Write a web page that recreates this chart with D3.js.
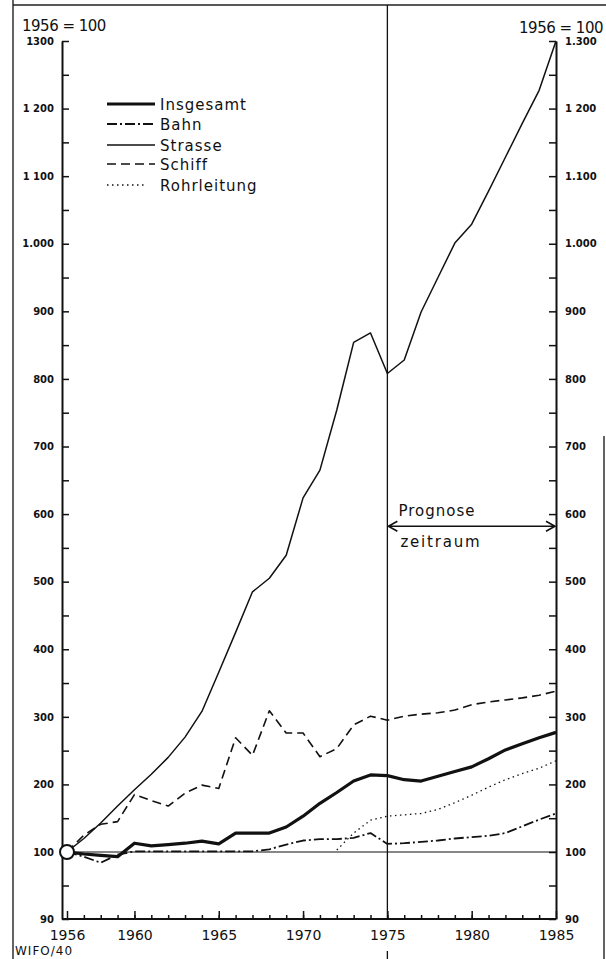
<!DOCTYPE html>
<html>
<head>
<meta charset="utf-8">
<script src="https://cdn.jsdelivr.net/npm/d3@7"></script>
<style>
  body { margin: 0; background: #fff; }
  svg text { font-family: "DejaVu Sans", sans-serif; fill: #111; }
  .ytick text { font-size: 10px; font-weight: bold; }
  .xaxis text { font-size: 14px; }
</style>
</head>
<body>
<svg width="606" height="959"></svg>
<script>
// Verkehrsleistung, Index 1956 = 100
var years = [1956, 1957, 1958, 1959, 1960, 1961, 1962, 1963, 1964, 1965,
             1966, 1967, 1968, 1969, 1970, 1971, 1972, 1973, 1974, 1975,
             1976, 1977, 1978, 1979, 1980, 1981, 1982, 1983, 1984, 1985];

var insgesamt = [100, 99.7, 99.5, 99.3, 113, 109, 111, 113, 116, 112,
                 128, 128, 128, 137, 153, 172, 188, 205, 214, 213,
                 207, 205, 212, 219, 226, 238, 251, 260, 269, 277];

var bahn = [100, 99.3, 98.4, 99.6, 101, 101, 101, 101, 101, 101,
            101, 101, 104, 111, 117, 119, 119, 121, 128, 112,
            113, 115, 117, 120, 122, 124, 128, 138, 148, 157];

var strasse = [100, 120, 143, 168, 192, 215, 240, 270, 308, 366,
               425, 485, 505, 539, 624, 665, 754, 854, 868, 808,
               828, 899, 950, 1001, 1029, 1078, 1128, 1178, 1227, 1300];

var schiff = [100, 125, 141, 145, 185, 176, 168, 187, 199, 194,
              269, 243, 309, 276, 276, 241, 253, 288, 301, 295,
              301, 304, 306, 310, 318, 322, 325, 328, 332, 338];

var rohrleitung = [null, null, null, null, null, null, null, null, null, null,
                   null, null, null, null, null, null, 103, 128, 147, 153,
                   155, 157, 163, 173, 184, 196, 207, 216, 224, 235];

var seriesNames = ["Insgesamt", "Bahn", "Strasse", "Schiff", "Rohrleitung"];
var seriesValues = [insgesamt, bahn, strasse, schiff, rohrleitung];

var yTicks = [90, 100, 200, 300, 400, 500, 600, 700, 800, 900, 1000, 1100, 1200, 1300];
var yMinorTicks = [95, 150, 250, 350, 450, 550, 650, 750, 850, 950, 1050, 1150, 1250];
var leftTickLabels = ["90", "100", "200", "300", "400", "500", "600", "700", "800", "900", "1.000", "1 100", "1 200", "1300"];
var rightTickLabels = ["90", "100", "200", "300", "400", "500", "600", "700", "800", "900", "1.000", "1.100", "1 200", "1.300"];
var yearLabels = [1956, 1960, 1965, 1970, 1975, 1980, 1985];

// line styles per series
var styles = {
  "Insgesamt":   { width: 3.2, dash: null },
  "Bahn":        { width: 1.8, dash: "10,3,2,3" },
  "Strasse":     { width: 1.5, dash: null },
  "Schiff":      { width: 1.6, dash: "9,5" },
  "Rohrleitung": { width: 1.3, dash: "1.5,3.5" }
};

var svg = d3.select("svg");
var x = d3.scaleLinear().domain([1956, 1985]).range([67, 556]);
// broken axis: the 90-100 step is stretched like a full 100 step
var y = d3.scaleLinear().domain([90, 100, 1300]).range([919, 852, 41]);
var leftX = x(1956) - 5, rightX = x(1985);

// scan frame
svg.append("path").attr("d", "M13,0V959M13,5H606M604,436V959")
  .attr("fill", "none").attr("stroke", "#222").attr("stroke-width", 1.4);

// left axis
var gl = svg.append("g").attr("class", "ytick").attr("transform", "translate(" + leftX + ",0)");
gl.call(d3.axisLeft(y).tickValues(yTicks).tickFormat(function(d, i) { return leftTickLabels[i]; })
  .tickSizeInner(-7).tickSizeOuter(0).tickPadding(8));
gl.append("g").call(d3.axisLeft(y).tickValues(yMinorTicks).tickFormat("").tickSizeInner(-7).tickSizeOuter(0))
  .select(".domain").remove();

// right axis
var gr = svg.append("g").attr("class", "ytick").attr("transform", "translate(" + rightX + ",0)");
gr.call(d3.axisRight(y).tickValues(yTicks).tickFormat(function(d, i) { return rightTickLabels[i]; })
  .tickSizeInner(-7).tickSizeOuter(0).tickPadding(9));
gr.append("g").call(d3.axisRight(y).tickValues(yMinorTicks).tickFormat("").tickSizeInner(-7).tickSizeOuter(0))
  .select(".domain").remove();

// bottom axis
var gb = svg.append("g").attr("class", "xaxis").attr("transform", "translate(0," + y(90) + ")");
gb.call(d3.axisBottom(x).tickValues(years.slice(1, -1)).tickFormat("").tickSizeInner(-4).tickSizeOuter(0))
  .select(".domain").remove();
gb.append("g").call(d3.axisBottom(x).tickValues(yearLabels).tickFormat(d3.format("d"))
  .tickSizeInner(-8).tickSizeOuter(0).tickPadding(11))
  .select(".domain").remove();
gb.append("line").attr("x1", leftX).attr("x2", rightX).attr("stroke", "#111").attr("stroke-width", 2);

svg.selectAll(".domain").attr("stroke", "#111").attr("stroke-width", 2);
svg.selectAll(".tick line").attr("stroke", "#111").attr("stroke-width", 1.5);

// 100 line and forecast divider
svg.append("line").attr("x1", leftX).attr("x2", rightX).attr("y1", y(100)).attr("y2", y(100))
  .attr("stroke", "#111").attr("stroke-width", 1.2);
svg.append("path").attr("d", "M" + x(1975) + ",5V" + y(90) + "M" + x(1975) + ",951V959")
  .attr("stroke", "#111").attr("stroke-width", 1.3);

// series
var line = d3.line()
  .defined(function(d) { return d != null; })
  .x(function(d, i) { return x(years[i]); })
  .y(function(d) { return y(d); });

seriesNames.forEach(function(name, k) {
  svg.append("path")
    .datum(seriesValues[k])
    .attr("fill", "none")
    .attr("stroke", "#111")
    .attr("stroke-width", styles[name].width)
    .attr("stroke-dasharray", styles[name].dash)
    .attr("stroke-linejoin", "round")
    .attr("d", line);
});

// origin circle
svg.append("circle").attr("cx", x(1956)).attr("cy", y(100)).attr("r", 7)
  .attr("fill", "#fff").attr("stroke", "#111").attr("stroke-width", 2);

// legend
var legendRows = [104, 124, 145, 164, 185];
seriesNames.forEach(function(name, k) {
  svg.append("line")
    .attr("x1", 107).attr("x2", name == "Rohrleitung" ? 147 : 155)
    .attr("y1", legendRows[k]).attr("y2", legendRows[k])
    .attr("stroke", "#111")
    .attr("stroke-width", styles[name].width)
    .attr("stroke-dasharray", styles[name].dash);
  svg.append("text").attr("x", 160).attr("y", legendRows[k] + 6)
    .attr("font-size", 15).attr("letter-spacing", 1).text(name);
});

// headers
svg.append("text").attr("x", 22).attr("y", 31).attr("font-size", 15).attr("letter-spacing", -0.5).text("1956 = 100");
svg.append("text").attr("x", 603).attr("y", 33).attr("text-anchor", "end").attr("font-size", 15).attr("letter-spacing", -0.5).text("1956 = 100");
svg.append("text").attr("x", 15).attr("y", 955).attr("font-size", 12).attr("letter-spacing", 1).text("WIFO/40");

// Prognosezeitraum arrow
var ay = y(582), ax0 = x(1975) + 1, ax1 = x(1985) - 1;
svg.append("path")
  .attr("d", "M" + ax0 + "," + ay + "H" + ax1 +
             "M" + (ax0 + 9) + "," + (ay - 5) + "L" + ax0 + "," + ay + "L" + (ax0 + 9) + "," + (ay + 5) +
             "M" + (ax1 - 9) + "," + (ay - 5) + "L" + ax1 + "," + ay + "L" + (ax1 - 9) + "," + (ay + 5))
  .attr("fill", "none").attr("stroke", "#111").attr("stroke-width", 1.6);
svg.append("text").attr("x", x(1975) + 11).attr("y", ay - 10).attr("font-size", 15).attr("letter-spacing", 1).text("Prognose");
svg.append("text").attr("x", x(1975) + 13).attr("y", ay + 21).attr("font-size", 15).attr("letter-spacing", 1.8).text("zeitraum");
</script>
</body>
</html>
